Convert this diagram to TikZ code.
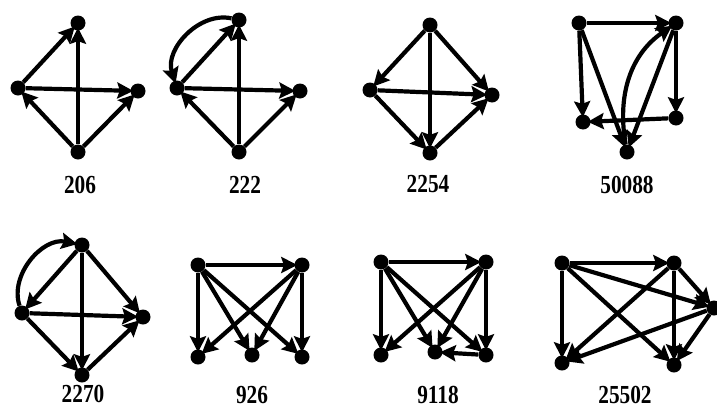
\documentclass[tikz,border=0pt]{standalone}
\usepackage{fontspec}
\setmainfont{Liberation Serif}
\usetikzlibrary{arrows.meta}
\tikzstyle{vertex} = [
    circle,
    fill=black,
    inner sep=0pt,
    minimum size=15pt
]
\tikzstyle{motifname} = [
    font=\bfseries\fontsize{26}{28}\selectfont,
    xscale=0.82,
    inner sep=0pt
]
\tikzstyle{arrow} = [line width=4.2pt, shorten >=-3pt, -{Stealth[length=16pt,width=16pt,inset=2.5pt]}]

\begin{document}
\begin{tikzpicture}[x=1pt, y=-1pt]
\useasboundingbox (0,0) rectangle (717,410);

% motif 206
\node (top1) [vertex] at (78,23) {};
\node (left1) [vertex] at (18,88) {};
\node (right1) [vertex] at (138,91) {};
\node (bot1) [vertex] at (78,152) {};
\node (name1) [motifname] at (80,185) {206};

\draw [arrow] (left1) -- (top1);
\draw [arrow] (bot1) -- (top1);
\draw [arrow] (left1) -- (right1);
\draw [arrow] (bot1) -- (left1);
\draw [arrow] (bot1) -- (right1);

% motif 222
\node (top2) [vertex] at (239,20) {};
\node (left2) [vertex] at (177,88) {};
\node (right2) [vertex] at (300,91) {};
\node (bot2) [vertex] at (239,152) {};
\node (name2) [motifname] at (245,185) {222};

\draw [arrow] (left2) -- (top2);
\draw [arrow] (top2) to[bend right=60] (left2);
\draw [arrow] (bot2) -- (top2);
\draw [arrow] (left2) -- (right2);
\draw [arrow] (bot2) -- (left2);
\draw [arrow] (bot2) -- (right2);

% motif 2254
\node (top3) [vertex] at (430,25) {};
\node (left3) [vertex] at (370,90) {};
\node (right3) [vertex] at (492,95) {};
\node (bot3) [vertex] at (430,153) {};
\node (name3) [motifname] at (428,184) {2254};

\draw [arrow] (top3) -- (left3);
\draw [arrow] (top3) -- (right3);
\draw [arrow] (top3) -- (bot3);
\draw [arrow] (left3) -- (right3);
\draw [arrow] (left3) -- (bot3);
\draw [arrow] (bot3) -- (right3);

% motif 50088
\node (tl4) [vertex] at (579,23) {};
\node (tr4) [vertex] at (676,23) {};
\node (ml4) [vertex] at (583,122) {};
\node (mr4) [vertex] at (676,118) {};
\node (bot4) [vertex] at (627,152) {};
\node (name4) [motifname] at (627,185) {50088};

\draw [arrow] (tl4) -- (tr4);
\draw [arrow] (tl4) -- (ml4);
\draw [arrow] (tl4) -- (bot4);
\draw [arrow] (tr4) -- (mr4);
\draw [arrow] (mr4) -- (ml4);
\draw [arrow] (tr4) -- (bot4);
\draw [arrow] (bot4) to[out=100, in=215] (tr4);

% motif 2270
\node (top5) [vertex] at (82,245) {};
\node (left5) [vertex] at (22,313) {};
\node (right5) [vertex] at (143,317) {};
\node (bot5) [vertex] at (82,375) {};
\node (name5) [motifname] at (83,394) {2270};

\draw [arrow] (top5) -- (left5);
\draw [arrow] (left5) to[bend left=60] (top5);
\draw [arrow] (top5) -- (right5);
\draw [arrow] (top5) -- (bot5);
\draw [arrow] (left5) -- (right5);
\draw [arrow] (left5) -- (bot5);
\draw [arrow] (bot5) -- (right5);

% motif 926
\node (tl6) [vertex] at (198,265) {};
\node (tr6) [vertex] at (302,265) {};
\node (bl6) [vertex] at (198,357) {};
\node (bm6) [vertex] at (252,355) {};
\node (br6) [vertex] at (302,357) {};
\node (name6) [motifname] at (252,395) {926};

\draw [arrow] (tl6) -- (tr6);
\draw [arrow] (tl6) -- (bl6);
\draw [arrow] (tl6) -- (bm6);
\draw [arrow] (tl6) -- (br6);
\draw [arrow] (tr6) -- (bl6);
\draw [arrow] (tr6) -- (bm6);
\draw [arrow] (tr6) -- (br6);

% motif 9118
\node (tl7) [vertex] at (381,262) {};
\node (tr7) [vertex] at (486,262) {};
\node (bl7) [vertex] at (381,355) {};
\node (bm7) [vertex] at (435,352) {};
\node (br7) [vertex] at (486,355) {};
\node (name7) [motifname] at (438,395) {9118};

\draw [arrow] (tl7) -- (tr7);
\draw [arrow] (tl7) -- (bl7);
\draw [arrow] (tl7) -- (bm7);
\draw [arrow] (tl7) -- (br7);
\draw [arrow] (tr7) -- (bl7);
\draw [arrow] (tr7) -- (bm7);
\draw [arrow] (tr7) -- (br7);
\draw [arrow] (br7) -- (bm7);

% motif 25502
\node (tl8) [vertex] at (562,263) {};
\node (tr8) [vertex] at (674,263) {};
\node (r8) [vertex] at (714,308) {};
\node (bl8) [vertex] at (562,363) {};
\node (br8) [vertex] at (674,365) {};
\node (name8) [motifname] at (625,395) {25502};

\draw [arrow] (tl8) -- (tr8);
\draw [arrow] (tl8) -- (bl8);
\draw [arrow] (tl8) -- (r8);
\draw [arrow] (tl8) -- (br8);
\draw [arrow] (tr8) -- (bl8);
\draw [arrow] (tr8) -- (br8);
\draw [arrow] (tr8) -- (r8);
\draw [arrow] (r8) -- (bl8);
\draw [arrow] (r8) -- (br8);

\end{tikzpicture}
\end{document}
